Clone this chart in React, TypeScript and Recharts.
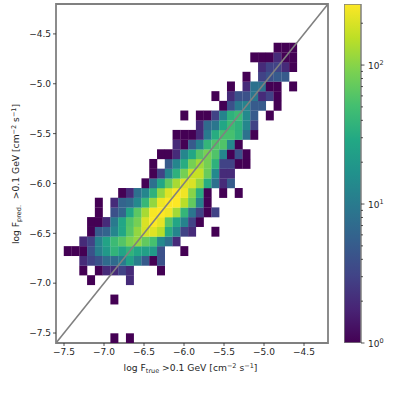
import { BarChart, Bar, Label, ReferenceArea, Scatter, ScatterChart, XAxis, YAxis } from 'recharts';

const FONT = 'DejaVu Sans';
const GRAY = '#808080';
const INK = '#262626';

const axisMin = -7.6;
const axisMax = -4.2;
const binCount = 35;
const xTicks = [-7.5, -7, -6.5, -6, -5.5, -5, -4.5];
const yTicks = [-7.5, -7, -6.5, -6, -5.5, -5, -4.5];
const colorMax = 275;
const colorTicks = [1, 2, 3, 4, 5, 6, 7, 8, 9, 10, 20, 30, 40, 50, 60, 70, 80, 90, 100, 200];
const diagonal = [
  { x: -7.6, y: -7.6 },
  { x: -4.2, y: -4.2 },
];

// row index (from the bottom), first column, counts per column (0 = empty bin)
const row0 = [0, 7, [1, 0, 1]];
const row4 = [4, 7, [1]];
const row6 = [6, 4, [1, 0, 0, 0, 0, 2]];
const row7 = [7, 3, [1, 0, 1, 2, 2, 3, 2, 0, 0, 0, 1]];
const row8 = [8, 3, [2, 3, 4, 7, 7, 10, 24, 11, 5, 1, 4]];
const row9 = [9, 1, [1, 1, 1, 4, 11, 20, 38, 26, 38, 28, 24, 20, 4, 0, 0, 1]];
const row10 = [10, 3, [2, 3, 12, 26, 45, 60, 90, 110, 70, 52, 14, 8, 2]];
const row11 = [11, 4, [1, 5, 6, 13, 28, 62, 110, 190, 210, 150, 32, 13, 3, 2, 0, 0, 1]];
const row12 = [12, 4, [1, 1, 2, 10, 28, 58, 85, 200, 270, 225, 62, 28, 12, 3, 1]];
const row13 = [13, 5, [1, 0, 4, 6, 28, 65, 130, 260, 275, 245, 125, 40, 9, 3, 1, 3]];
const row14 = [14, 5, [1, 0, 2, 6, 7, 14, 42, 110, 240, 275, 275, 150, 70, 12, 1]];
const row15 = [15, 8, [1, 2, 8, 13, 36, 110, 210, 270, 245, 100, 32, 1, 0, 1, 0, 1]];
const row16 = [16, 11, [1, 8, 28, 70, 130, 210, 200, 110, 32, 8, 2, 5]];
const row17 = [17, 12, [1, 3, 13, 36, 85, 170, 170, 75, 14, 2, 2]];
const row18 = [18, 12, [1, 0, 5, 13, 32, 85, 125, 85, 36, 3, 3, 1, 1]];
const row19 = [19, 13, [1, 1, 2, 13, 28, 62, 88, 58, 13, 1, 4, 1]];
const row20 = [20, 15, [2, 1, 5, 12, 40, 58, 58, 14, 1]];
const row21 = [21, 15, [1, 1, 1, 2, 10, 32, 52, 52, 36, 8, 1]];
const row22 = [22, 18, [2, 7, 9, 28, 45, 36, 13, 3]];
const row23 = [23, 16, [1, 0, 1, 1, 3, 12, 36, 45, 14, 5, 0, 1]];
const row24 = [24, 21, [1, 4, 10, 12, 5, 5, 0, 1]];
const row25 = [25, 20, [1, 0, 2, 4, 4, 9, 2, 3, 1]];
const row26 = [26, 22, [1, 0, 2, 8, 8, 1, 1, 0, 1]];
const row27 = [27, 24, [1, 0, 3, 4, 5, 5]];
const row28 = [28, 26, [2, 3, 3, 2, 1]];
const row29 = [29, 25, [1, 1, 1, 2, 1, 1]];
const row30 = [30, 28, [1, 1, 1]];

const rows = [row0, row4, row6, row7, row8, row9, row10, row11, row12, row13, row14, row15, row16, row17, row18, row19, row20, row21, row22, row23, row24, row25, row26, row27, row28, row29, row30] as [number, number, number[]][];

const viridis = ['#440154', '#482475', '#414487', '#355f8d', '#2a788e', '#21918c', '#22a884', '#44bf70', '#7ad151', '#bddf26', '#fde725'];

const binWidth = (axisMax - axisMin) / binCount;
const cells = rows.flatMap(([row, first, counts]) =>
  counts
    .map((count, k) => ({
      x: axisMin + (first + k + 0.5) * binWidth,
      y: axisMin + (row + 0.5) * binWidth,
      count,
    }))
    .filter((c) => c.count > 0)
);

const mix = (a: string, b: string, t: number) => {
  const ch = (s: string, i: number) => parseInt(s.slice(i, i + 2), 16);
  const part = (i: number) => Math.round(ch(a, i) + (ch(b, i) - ch(a, i)) * t).toString(16).padStart(2, '0');
  return `#${part(1)}${part(3)}${part(5)}`;
};

const countColor = (count: number) => {
  const t = Math.min(1, Math.log10(count) / Math.log10(colorMax)) * (viridis.length - 1);
  const i = Math.min(viridis.length - 2, Math.floor(t));
  return mix(viridis[i], viridis[i + 1], t - i);
};

const formatTick = (v: number) => v.toFixed(1).replace('-', '\u2212');

const CELL_W = 272 / binCount;
const CELL_H = 339 / binCount;

function HeatCell({ cx, cy, payload }: any) {
  return <rect x={cx - CELL_W / 2} y={cy - CELL_H / 2} width={CELL_W + 0.2} height={CELL_H + 0.2} fill={countColor(payload.count)} />;
}

function XTitle() {
  return (
    <text x={190.5} y={371} textAnchor="middle" fontFamily={FONT} fontSize={9.2} fill={INK}>
      log F<tspan fontSize={6.5} dy={2}>true</tspan>
      <tspan dy={-2}> &gt;0.1 GeV [cm</tspan>
      <tspan fontSize={6.5} dy={-3.5}>{'\u22122'}</tspan>
      <tspan dy={3.5}> s</tspan>
      <tspan fontSize={6.5} dy={-3.5}>{'\u22121'}</tspan>
      <tspan dy={3.5}>]</tspan>
    </text>
  );
}

function YTitle() {
  return (
    <text transform="translate(19 174) rotate(-90)" textAnchor="middle" fontFamily={FONT} fontSize={9.2} fill={INK}>
      log F<tspan fontSize={6.5} dy={2}>pred.</tspan>
      <tspan dy={-2}>{'\u00a0 >0.1 GeV [cm'}</tspan>
      <tspan fontSize={6.5} dy={-3.5}>{'\u22122'}</tspan>
      <tspan dy={3.5}> s</tspan>
      <tspan fontSize={6.5} dy={-3.5}>{'\u22121'}</tspan>
      <tspan dy={3.5}>]</tspan>
    </text>
  );
}

function ColorTick({ x, y, payload }: any) {
  const exp = Math.round(Math.log10(payload.value) * 1000) / 1000;
  const major = Number.isInteger(exp);
  return (
    <g>
      <line x1={x} x2={x + (major ? 3.5 : 2)} y1={y} y2={y} stroke={INK} strokeWidth={0.8} />
      {major && (
        <text x={x + 7} y={y + 3.5} fontFamily={FONT} fontSize={9} fill={INK}>
          10<tspan fontSize={6.5} dy={-3.5}>{exp}</tspan>
        </text>
      )}
    </g>
  );
}

function ColorBar() {
  return (
    <BarChart
      width={399 - 344}
      height={399}
      data={[{ name: 'counts', top: colorMax }]}
      margin={{ top: 4, right: 38, bottom: 56, left: 0 }}
      barCategoryGap={0}
    >
      <defs>
        <linearGradient id="viridisBar" x1="0" y1="1" x2="0" y2="0">
          {viridis.map((c, i) => (
            <stop key={c} offset={i / (viridis.length - 1)} stopColor={c} />
          ))}
        </linearGradient>
      </defs>
      <XAxis dataKey="name" hide />
      <YAxis
        orientation="right"
        width={0.01}
        scale="log"
        domain={[1, colorMax]}
        ticks={colorTicks}
        interval={0}
        allowDataOverflow
        axisLine={false}
        tickLine={false}
        tickSize={0}
        tickMargin={0}
        tick={ColorTick}
      />
      <Bar dataKey="top" fill="url(#viridisBar)" stroke={GRAY} strokeWidth={1.5} isAnimationActive={false} />
    </BarChart>
  );
}

export default function App() {
  return (
    <div style={{ position: 'absolute', left: 0, top: 0, width: 399, height: 399, background: '#fff' }}>
      <div style={{ position: 'absolute', left: 0, top: 0 }}>
        <ScatterChart width={340} height={399} margin={{ top: 4, right: 12, bottom: 0, left: 0 }}>
          <XAxis
            type="number"
            dataKey="x"
            domain={[axisMin, axisMax]}
            ticks={xTicks}
            interval={0}
            allowDataOverflow
            height={56}
            axisLine={false}
            tickSize={3}
            tickMargin={3}
            tickLine={{ stroke: INK, strokeWidth: 0.8 }}
            tick={{ fontFamily: FONT, fontSize: 9, fill: INK }}
            tickFormatter={formatTick}
          >
            <Label content={XTitle} />
          </XAxis>
          <YAxis
            type="number"
            dataKey="y"
            domain={[axisMin, axisMax]}
            ticks={yTicks}
            interval={0}
            allowDataOverflow
            width={56}
            axisLine={false}
            tickSize={3}
            tickMargin={2}
            tickLine={{ stroke: INK, strokeWidth: 0.8 }}
            tick={{ fontFamily: FONT, fontSize: 9, fill: INK }}
            tickFormatter={formatTick}
          >
            <Label content={YTitle} />
          </YAxis>
          <Scatter data={cells} shape={HeatCell} isAnimationActive={false} />
          <Scatter data={diagonal} line={{ stroke: GRAY, strokeWidth: 1.6 }} shape={() => null} isAnimationActive={false} />
          <ReferenceArea x1={axisMin} x2={axisMax} y1={axisMin} y2={axisMax} fill="none" stroke={GRAY} strokeWidth={1.8} fillOpacity={0} />
        </ScatterChart>
      </div>
      <div style={{ position: 'absolute', left: 344, top: 0 }}>
        <ColorBar />
      </div>
    </div>
  );
}
